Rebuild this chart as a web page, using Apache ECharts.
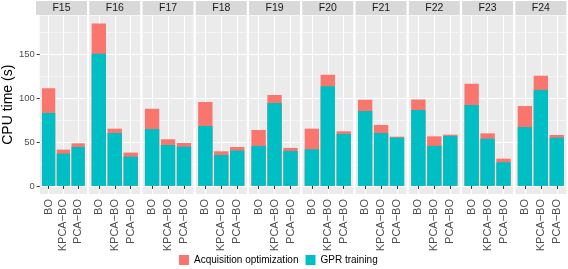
<!DOCTYPE html>
<html><head><meta charset="utf-8">
<script src="https://cdn.jsdelivr.net/npm/echarts@6/dist/echarts.min.js"></script>
<style>html,body{margin:0;padding:0;background:#fff}#c{width:568px;height:269px}</style>
</head><body><div id="c"></div>
<script>
const facets = ['F15','F16','F17','F18','F19','F20','F21','F22','F23','F24'];
const methods = ['BO','KPCA\u2212BO','PCA\u2212BO'];
const yTicks = [0, 50, 100, 150];
const yMinorTicks = [25, 75, 125, 175];
// GPR training time per facet
const gprBO   = [83.2, 150.8, 64.9, 68.4, 45.6, 41.8, 85.4, 86.6, 92.3, 67.2];
const gprKPCA = [36.8, 60.4, 46.7, 35.3, 94.6, 113.9, 60.4, 45.6, 53.9, 109.4];
const gprPCA  = [44.4, 33.4, 44.8, 40.3, 39.9, 59.2, 55.1, 57.0, 27.0, 55.1];
// Acquisition optimization time per facet
const acqBO   = [28.4, 34.5, 23.2, 27.3, 18.2, 23.5, 12.9, 12.1, 24.3, 23.9];
const acqKPCA = [4.6, 4.9, 6.5, 4.2, 9.1, 12.9, 9.1, 11.0, 6.1, 16.3];
const acqPCA  = [4.2, 4.6, 4.2, 4.1, 3.4, 3.1, 1.1, 1.5, 4.1, 3.0];

const gpr = [gprBO, gprKPCA, gprPCA];
const acq = [acqBO, acqKPCA, acqPCA];
let maxTotal = 0;
facets.forEach((f, i) => { for (let j = 0; j < 3; j++) maxTotal = Math.max(maxTotal, gpr[j][i] + acq[j][i]); });
const yMin = -0.05 * maxTotal, yMax = maxTotal * 1.05;

const PL = 36, PW = 51, STRIDE = 53.26, PT = 15.5, PB = 194, ST = 1;
const grids = [], xAxes = [], yAxes = [], series = [], graphics = [];
const FONT = 'Liberation Sans';
facets.forEach((f, i) => {
  const left = PL + i * STRIDE;
  grids.push({ left: left, top: PT, width: PW, height: PB - PT, show: true, backgroundColor: '#EBEBEB', borderWidth: 0 });
  xAxes.push({
    type: 'value', gridIndex: i, min: 0.4, max: 3.6,
    axisLine: { show: false },
    axisTick: { show: true, customValues: [1, 2, 3], length: 3, lineStyle: { color: '#333333', width: 1 } },
    axisLabel: { show: true, customValues: [1, 2, 3], rotate: 90, fontSize: 11, color: '#4D4D4D', fontFamily: FONT, margin: 5,
      formatter: v => methods[Math.round(v) - 1] || '' },
    splitLine: { show: true, lineStyle: { color: '#FFFFFF', width: 1 } }
  });
  yAxes.push({
    type: 'value', gridIndex: i, min: yMin, max: yMax,
    name: i === 0 ? 'CPU time (s)' : '', nameLocation: 'middle', nameRotate: 90, nameGap: 23,
    nameTextStyle: { fontSize: 14, color: '#000', fontFamily: FONT },
    axisLine: { show: false },
    axisTick: { show: i === 0, customValues: yTicks, length: 3, lineStyle: { color: '#333333' } },
    axisLabel: { show: i === 0, customValues: yTicks, fontSize: 9.5, color: '#4D4D4D', fontFamily: FONT, margin: 5 },
    splitLine: { show: true, lineStyle: { color: '#FFFFFF', width: 1.1 } }
  });
  yAxes.push({
    type: 'value', gridIndex: i, min: yMin, max: yMax,
    axisLine: { show: false },
    axisTick: { show: false, customValues: yMinorTicks },
    axisLabel: { show: false, customValues: yMinorTicks },
    splitLine: { show: true, lineStyle: { color: '#FFFFFF', width: 0.5 } }
  });
  // Stacked look: total bar (acquisition on top of GPR) drawn first, GPR bar overlaid from zero.
  series.push({
    name: 'Acquisition optimization', type: 'bar', xAxisIndex: i, yAxisIndex: 2 * i,
    barWidth: '90%', barGap: '-100%', itemStyle: { color: '#F8766D' },
    data: methods.map((m, j) => [j + 1, gpr[j][i] + acq[j][i]])
  });
  series.push({
    name: 'GPR training', type: 'bar', xAxisIndex: i, yAxisIndex: 2 * i,
    barWidth: '90%', barGap: '-100%', itemStyle: { color: '#00BFC4' },
    data: methods.map((m, j) => [j + 1, gpr[j][i]])
  });
  graphics.push({ type: 'rect', shape: { x: left, y: ST, width: PW, height: PT - ST - 0.5 }, style: { fill: '#D9D9D9' }, silent: true });
  graphics.push({ type: 'text', x: left + PW / 2, y: (ST + PT) / 2, style: { text: f, fill: '#1A1A1A', fontSize: 10.5, fontFamily: FONT, align: 'center', verticalAlign: 'middle' }, silent: true });
});

const chart = echarts.init(document.getElementById('c'), null, { renderer: 'canvas' });
chart.setOption({
  animation: false,
  backgroundColor: '#FFFFFF',
  grid: grids, xAxis: xAxes, yAxis: yAxes, series: series,
  graphic: graphics,
  legend: {
    data: ['Acquisition optimization', 'GPR training'],
    left: 174, top: 250, itemWidth: 10, itemHeight: 10, itemGap: 7, icon: 'rect',
    textStyle: { fontSize: 10, color: '#000', fontFamily: FONT }
  }
});
</script></body></html>
